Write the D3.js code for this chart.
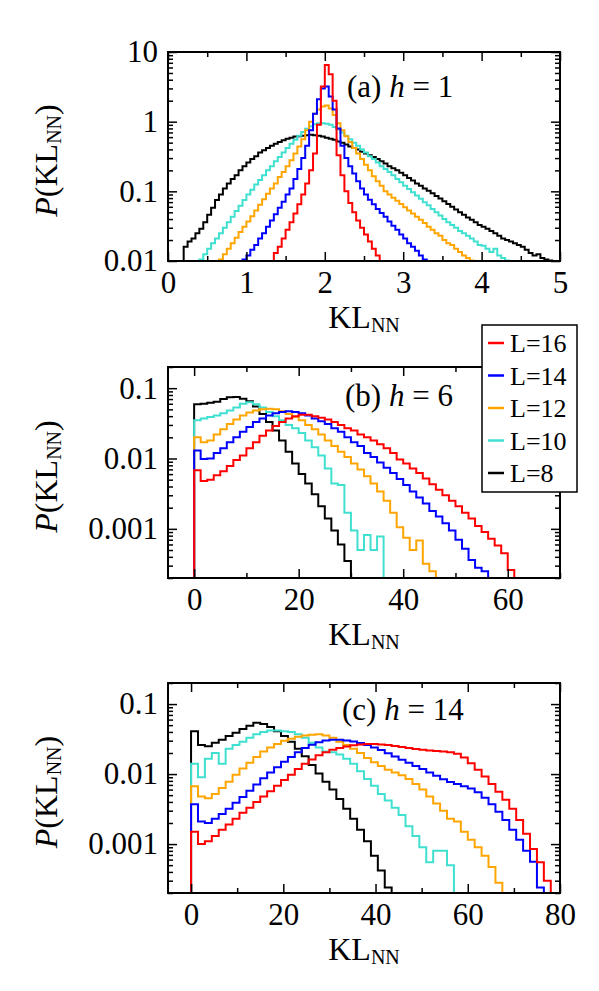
<!DOCTYPE html>
<html>
<head>
<meta charset="utf-8">
<script src="https://cdn.jsdelivr.net/npm/d3@7"></script>
<style>
  body { margin: 0; background: #fff; }
  svg { display: block; }
  text { font-family: "Liberation Serif", Tinos, "Times New Roman", Times, "DejaVu Serif", "Noto Serif", serif; fill: #000; white-space: pre; }
</style>
</head>
<body>
<svg id="chart"></svg>
<script>
const width = 599;
const height = 991;
const left = 168;
const right = 560;
const serif = '"Liberation Serif", Tinos, "Times New Roman", Times, "DejaVu Serif", serif';

const sizes = ['L=16', 'L=14', 'L=12', 'L=10', 'L=8'];
const colors = ['#ff0000', '#0000ff', '#ffa500', '#40e0d0', '#000000'];

// (a) h = 1, bin width 0.05, each series starts at its own bin edge
const binA = 0.05;
const startA = [1.35, 0.95, 0.65, 0.40, 0.20];
const pA16 = [0.013,0.016,0.021,0.028,0.036,0.048,0.065,0.09,0.13,0.2,
  0.35,0.9,3.2,6.5,4.8,2.0,0.33,0.17,0.1,0.068,
  0.05,0.038,0.03,0.024,0.019,0.015,0.012];
const pA14 = [0.0105,0.012,0.0145,0.017,0.021,0.025,0.031,0.038,0.047,0.058,
  0.071,0.09,0.11,0.15,0.21,0.3,0.45,0.75,1.3,2.1,
  3.0,3.2,2.3,1.5,0.8,0.45,0.3,0.23,0.18,0.14,
  0.11,0.09,0.076,0.065,0.056,0.049,0.043,0.037,0.032,0.028,
  0.024,0.021,0.018,0.016,0.014,0.012,0.0105];
const pA12 = [0.0105,0.0125,0.015,0.018,0.0215,0.026,0.031,0.037,0.044,0.053,
  0.064,0.077,0.092,0.11,0.13,0.16,0.19,0.23,0.28,0.35,
  0.44,0.56,0.75,1.0,1.3,1.5,1.65,1.7,1.55,1.25,
  0.95,0.75,0.62,0.51,0.42,0.35,0.29,0.24,0.2,0.165,
  0.14,0.12,0.1,0.09,0.081,0.073,0.066,0.059,0.053,0.048,
  0.043,0.039,0.035,0.031,0.028,0.025,0.023,0.02,0.018,0.017,
  0.015,0.0135,0.012,0.011,0.0102];
const pA10 = [0.0105,0.0125,0.015,0.018,0.021,0.025,0.03,0.036,0.043,0.052,
  0.062,0.075,0.09,0.105,0.125,0.145,0.17,0.2,0.23,0.27,
  0.31,0.36,0.42,0.48,0.55,0.63,0.71,0.79,0.86,0.92,
  0.95,0.95,0.93,0.9,0.84,0.77,0.7,0.63,0.56,0.5,
  0.45,0.4,0.36,0.32,0.29,0.26,0.23,0.21,0.19,0.17,
  0.15,0.135,0.12,0.108,0.097,0.087,0.078,0.07,0.063,0.056,
  0.05,0.045,0.04,0.036,0.033,0.03,0.027,0.025,0.023,0.021,
  0.019,0.017,0.0165,0.015,0.0135,0.015,0.012,0.011,0.0102];
const pA8 = [0.016,0.019,0.021,0.025,0.029,0.036,0.046,0.058,0.075,0.09,
  0.11,0.13,0.15,0.17,0.2,0.23,0.26,0.29,0.32,0.36,
  0.39,0.42,0.45,0.48,0.51,0.54,0.57,0.59,0.61,0.62,
  0.63,0.64,0.65,0.64,0.63,0.61,0.59,0.57,0.55,0.52,
  0.5,0.47,0.44,0.42,0.4,0.37,0.35,0.33,0.31,0.29,
  0.27,0.25,0.23,0.215,0.2,0.185,0.17,0.155,0.143,0.13,
  0.12,0.11,0.102,0.094,0.086,0.079,0.072,0.066,0.06,0.055,
  0.05,0.046,0.042,0.039,0.036,0.033,0.031,0.029,0.027,0.025,
  0.023,0.021,0.02,0.019,0.018,0.017,0.016,0.0145,0.013,0.012,
  0.0125,0.011,0.0105,0.0102];
const xTicksA = [0, 1, 2, 3, 4, 5];
const xMinorA = [0.5, 1.5, 2.5, 3.5, 4.5];
const yTicksA = [10, 1, 0.1, 0.01];

// (b) h = 6, bin width 1.25
const binB = 1.25;
const startB = [0, 0, 0, 0, 0];
const pB16 = [0.0068,0.0048,0.005,0.0058,0.0066,0.0078,0.0095,0.011,0.014,0.017,
  0.021,0.025,0.029,0.033,0.037,0.04,0.042,0.042,0.04,0.038,
  0.036,0.033,0.03,0.027,0.025,0.022,0.02,0.018,0.016,0.014,
  0.012,0.0097,0.0085,0.0072,0.0062,0.0052,0.0043,0.0036,0.003,0.0025,
  0.0021,0.0017,0.0014,0.0011,0.0009,0.00072,0.00058,0.00045,0.00026];
const pB14 = [0.013,0.0098,0.01,0.012,0.014,0.017,0.02,0.024,0.028,0.033,
  0.037,0.041,0.044,0.046,0.047,0.046,0.044,0.041,0.037,0.034,
  0.031,0.027,0.024,0.02,0.017,0.015,0.012,0.0105,0.0088,0.0074,
  0.0062,0.0051,0.0042,0.0034,0.0028,0.0023,0.0018,0.0015,0.0012,0.00095,
  0.0007,0.00052,0.00036,0.00028,0.00025];
const pB12 = [0.02,0.017,0.018,0.022,0.026,0.031,0.036,0.041,0.045,0.048,
  0.05,0.051,0.05,0.047,0.043,0.039,0.035,0.03,0.026,0.022,
  0.018,0.015,0.0125,0.0105,0.0085,0.007,0.0056,0.0044,0.0034,0.0025,
  0.0017,0.00105,0.00075,0.0005,0.00068,0.00032,0.00025];
const pB10 = [0.035,0.037,0.039,0.041,0.044,0.048,0.053,0.06,0.063,0.059,
  0.053,0.046,0.04,0.035,0.03,0.027,0.023,0.018,0.0145,0.011,
  0.0072,0.0044,0.0042,0.0017,0.00095,0.0005,0.00082,0.0005,0.00078];
const pB8 = [0.059,0.06,0.062,0.064,0.07,0.074,0.075,0.071,0.065,0.055,
  0.043,0.033,0.025,0.018,0.0125,0.0085,0.006,0.0044,0.0031,0.0021,
  0.0014,0.00095,0.0006,0.00035];
const xTicksB = [0, 20, 40, 60];
const xMinorB = [10, 30, 50, 70];
const yTicksB = [0.1, 0.01, 0.001];

// (c) h = 14, bin width 1.5
const binC = 1.5;
const startC = [0, 0, 0, 0, 0];
const pC16 = [0.0015,0.001,0.0011,0.0013,0.0016,0.0019,0.0023,0.0028,0.0033,0.004,
  0.0048,0.0057,0.0068,0.0082,0.0098,0.0118,0.014,0.0162,0.0185,0.0205,
  0.0222,0.0236,0.0248,0.0258,0.0265,0.027,0.027,0.0265,0.026,0.0252,
  0.0243,0.0235,0.0228,0.0222,0.0218,0.0214,0.021,0.0205,0.0195,0.0172,
  0.0143,0.0115,0.0092,0.0072,0.0056,0.0043,0.0032,0.0022,0.0014,0.00085,
  0.00055,0.0003];
const pC14 = [0.0037,0.0021,0.002,0.0023,0.0027,0.0032,0.0039,0.0047,0.0058,0.0071,
  0.0087,0.0105,0.0125,0.015,0.0175,0.0205,0.0235,0.0262,0.0285,0.0302,
  0.031,0.031,0.0302,0.0292,0.0278,0.026,0.024,0.022,0.0198,0.0178,
  0.016,0.0145,0.013,0.0118,0.0105,0.0095,0.0084,0.0077,0.0072,0.0067,
  0.0062,0.0055,0.0046,0.0037,0.0029,0.0022,0.0016,0.00115,0.0008,0.00056,
  0.00024];
const pC12 = [0.0067,0.0048,0.0045,0.0052,0.0063,0.0078,0.0098,0.012,0.0145,0.0175,
  0.021,0.024,0.027,0.03,0.032,0.034,0.0355,0.0365,0.037,0.0355,
  0.033,0.029,0.026,0.023,0.02,0.017,0.0148,0.013,0.0115,0.0105,
  0.0096,0.0085,0.0072,0.006,0.0048,0.0038,0.003,0.0023,0.0021,0.0015,
  0.00115,0.0009,0.00068,0.00047,0.00028];
const pC10 = [0.014,0.009,0.0165,0.02,0.014,0.023,0.026,0.029,0.033,0.037,
  0.04,0.042,0.042,0.041,0.04,0.037,0.033,0.028,0.024,0.021,
  0.0205,0.019,0.0165,0.014,0.011,0.0085,0.0068,0.0052,0.0042,0.0033,
  0.0026,0.0018,0.0013,0.0009,0.00055,0.0008,0.0008,0.0005];
const pC8 = [0.041,0.026,0.025,0.028,0.031,0.035,0.039,0.044,0.049,0.054,
  0.052,0.047,0.041,0.035,0.029,0.023,0.018,0.0135,0.0102,0.0078,
  0.006,0.0044,0.0032,0.0023,0.0016,0.0011,0.00068,0.00042,0.00024];
const xTicksC = [0, 20, 40, 60, 80];
const xMinorC = [10, 30, 50, 70];
const yTicksC = [0.1, 0.01, 0.001];

const panels = [
  { id: 'a', h: '1', top: 52, bottom: 261, xDom: [0, 5], yDom: [0.01, 10],
    bin: binA, starts: startA, series: [pA16, pA14, pA12, pA10, pA8],
    xTicks: xTicksA, xMinor: xMinorA, yTicks: yTicksA, ann: [347, 97] },
  { id: 'b', h: '6', top: 367, bottom: 578, xDom: [-5, 70], yDom: [0.0002, 0.2],
    bin: binB, starts: startB, series: [pB16, pB14, pB12, pB10, pB8],
    xTicks: xTicksB, xMinor: xMinorB, yTicks: yTicksB, ann: [345, 406] },
  { id: 'c', h: '14', top: 683, bottom: 893, xDom: [-5, 80], yDom: [0.0002, 0.2],
    bin: binC, starts: startC, series: [pC16, pC14, pC12, pC10, pC8],
    xTicks: xTicksC, xMinor: xMinorC, yTicks: yTicksC, ann: [342, 720] }
];

const svg = d3.select('#chart')
  .attr('width', width)
  .attr('height', height)
  .style('font-family', serif);

function minorLog(dom) {
  const out = [];
  for (let e = Math.floor(Math.log10(dom[0])); e <= Math.ceil(Math.log10(dom[1])); e++) {
    for (let m = 2; m <= 9; m++) {
      const v = m * Math.pow(10, e);
      if (v >= dom[0] * 0.999 && v <= dom[1] * 1.001) out.push(v);
    }
  }
  return out;
}

function styleAxis(g) {
  g.select('.domain').remove();
  g.attr('font-family', null).attr('font-size', null);
  g.selectAll('line').attr('stroke', '#000').attr('stroke-width', 1.5);
  g.selectAll('text').style('font-family', serif).attr('font-size', 31);
}

function drawPanel(p) {
  const x = d3.scaleLinear().domain(p.xDom).range([left, right]);
  const y = d3.scaleLog().domain(p.yDom).range([p.bottom, p.top]).clamp(true);
  const g = svg.append('g');
  const yMin = p.yDom[0];

  g.append('clipPath').attr('id', 'clip-' + p.id)
    .append('rect')
    .attr('x', left).attr('y', p.top)
    .attr('width', right - left).attr('height', p.bottom - p.top);

  const line = d3.line()
    .x(d => x(d[0]))
    .y(d => y(d[1]))
    .curve(d3.curveStepAfter);

  // L=8 first so that L=16 ends up on top
  for (let k = p.series.length - 1; k >= 0; k--) {
    const vals = p.series[k];
    const s = p.starts[k];
    const n = vals.length;
    const pts = [[s, yMin]];
    vals.forEach((v, i) => pts.push([s + i * p.bin, v]));
    pts.push([s + n * p.bin, vals[n - 1]]);
    pts.push([s + n * p.bin, yMin]);
    g.append('path')
      .datum(pts)
      .attr('clip-path', `url(#clip-${p.id})`)
      .attr('fill', 'none')
      .attr('stroke', colors[k])
      .attr('stroke-width', 2)
      .attr('d', line);
  }

  // axes, ticks pointing inwards on all four sides
  g.append('g').attr('transform', `translate(0,${p.bottom})`)
    .call(d3.axisBottom(x).tickValues(p.xTicks).tickSize(-9).tickPadding(10).tickFormat(d3.format('d')))
    .call(styleAxis);
  g.append('g').attr('transform', `translate(0,${p.bottom})`)
    .call(d3.axisBottom(x).tickValues(p.xMinor).tickSize(-5).tickFormat(''))
    .call(styleAxis);
  g.append('g').attr('transform', `translate(0,${p.top})`)
    .call(d3.axisTop(x).tickValues(p.xTicks).tickSize(-9).tickFormat(''))
    .call(styleAxis);
  g.append('g').attr('transform', `translate(0,${p.top})`)
    .call(d3.axisTop(x).tickValues(p.xMinor).tickSize(-5).tickFormat(''))
    .call(styleAxis);

  g.append('g').attr('transform', `translate(${left},0)`)
    .call(d3.axisLeft(y).tickValues(p.yTicks).tickSize(-9).tickPadding(10).tickFormat(d => String(d)))
    .call(styleAxis);
  g.append('g').attr('transform', `translate(${left},0)`)
    .call(d3.axisLeft(y).tickValues(minorLog(p.yDom)).tickSize(-5).tickFormat(''))
    .call(styleAxis);
  g.append('g').attr('transform', `translate(${right},0)`)
    .call(d3.axisRight(y).tickValues(p.yTicks).tickSize(-9).tickFormat(''))
    .call(styleAxis);
  g.append('g').attr('transform', `translate(${right},0)`)
    .call(d3.axisRight(y).tickValues(minorLog(p.yDom)).tickSize(-5).tickFormat(''))
    .call(styleAxis);

  g.append('rect')
    .attr('x', left).attr('y', p.top)
    .attr('width', right - left).attr('height', p.bottom - p.top)
    .attr('fill', 'none').attr('stroke', '#000').attr('stroke-width', 2);

  // x title
  const xt = g.append('text')
    .attr('x', (left + right) / 2).attr('y', p.bottom + 67)
    .attr('text-anchor', 'middle').attr('font-size', 32);
  xt.append('tspan').text('KL');
  xt.append('tspan').attr('font-size', 20).attr('dy', 4).text('NN');

  // y title
  const yt = g.append('text')
    .attr('transform', `translate(57,${(p.top + p.bottom) / 2 + 4}) rotate(-90)`)
    .attr('text-anchor', 'middle').attr('font-size', 32);
  yt.append('tspan').attr('font-style', 'italic').text('P');
  yt.append('tspan').text('(KL');
  yt.append('tspan').attr('font-size', 20).attr('dy', 4).text('NN');
  yt.append('tspan').attr('dy', -4).text(')');

  // panel annotation
  const an = g.append('text')
    .attr('x', p.ann[0]).attr('y', p.ann[1]).attr('font-size', 31);
  an.append('tspan').text(`(${p.id}) `);
  an.append('tspan').attr('font-style', 'italic').text('h');
  an.append('tspan').text(` = ${p.h}`);
}

panels.forEach(drawPanel);

// legend
const legend = svg.append('g');
legend.append('rect')
  .attr('x', 482).attr('y', 325).attr('width', 95).attr('height', 167)
  .attr('fill', '#fff').attr('stroke', '#000').attr('stroke-width', 1.5);
sizes.forEach((s, i) => {
  const ly = 343 + i * 32.5;
  legend.append('line')
    .attr('x1', 488).attr('x2', 504).attr('y1', ly).attr('y2', ly)
    .attr('stroke', colors[i]).attr('stroke-width', 2.5);
  legend.append('text')
    .attr('x', 510).attr('y', ly + 9).attr('font-size', 26)
    .text(s);
});
</script>
</body>
</html>
